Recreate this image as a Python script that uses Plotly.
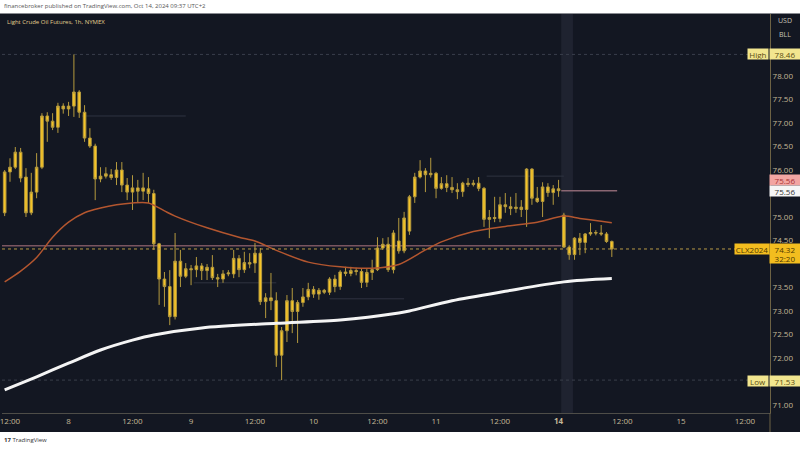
import plotly.graph_objects as go

# ---------------- data ----------------
opens = [75.09, 75.96, 76.06, 76.38, 75.85, 75.09, 75.53, 76.06, 77.15, 77.04,
         76.91, 77.36, 77.30, 77.36, 77.66, 77.23, 76.68, 76.51, 75.81, 75.87,
         75.90, 75.84, 76.00, 75.68, 75.53, 75.62, 75.55, 75.60, 75.50, 74.43,
         73.68, 73.52, 72.88, 74.06, 73.74, 73.90, 73.88, 73.96, 73.86, 73.93,
         73.71, 73.68, 73.79, 73.79, 74.12, 73.88, 74.03, 74.02, 74.23, 73.20,
         73.28, 73.22, 72.06, 72.58, 73.22, 72.99, 73.18, 73.30, 73.46, 73.36,
         73.44, 73.40, 73.68, 73.52, 73.83, 73.80, 73.86, 73.84, 73.61, 73.82,
         73.88, 74.34, 74.42, 73.88, 74.49, 74.28, 74.70, 75.43, 75.85, 75.98,
         75.90, 75.93, 75.61, 75.71, 75.63, 75.58, 75.54, 75.72, 75.69, 75.72,
         75.61, 74.95, 74.99, 74.97, 75.26, 75.22, 75.18, 75.21, 75.16, 76.02,
         75.40, 75.33, 75.64, 75.52, 75.60, 75.04, 74.36, 74.20, 74.55, 74.46,
         74.64, 74.67, 74.66, 74.64, 74.48]
highs = [76.00, 76.25, 76.49, 76.47, 76.04, 75.94, 76.36, 77.21, 77.23, 77.21,
         77.43, 77.42, 77.45, 78.46, 77.70, 77.38, 76.89, 76.56, 76.06, 76.06,
         76.02, 76.17, 76.17, 75.83, 75.89, 75.79, 75.94, 75.85, 75.58, 74.45,
         73.83, 73.87, 74.66, 74.30, 74.02, 73.98, 74.15, 74.02, 74.00, 74.19,
         73.79, 73.87, 73.87, 74.30, 74.19, 74.26, 74.23, 74.45, 74.34, 73.38,
         73.81, 73.40, 72.66, 73.34, 73.49, 73.23, 73.49, 73.60, 73.53, 73.49,
         73.47, 73.72, 73.77, 73.87, 73.94, 73.94, 73.92, 73.91, 73.91, 74.09,
         74.57, 74.55, 74.57, 74.72, 74.98, 75.11, 75.47, 75.94, 76.21, 76.04,
         76.26, 75.96, 75.85, 75.89, 75.85, 75.72, 75.75, 75.83, 75.79, 75.85,
         75.64, 75.15, 75.43, 75.43, 75.51, 75.43, 75.51, 75.36, 76.04, 76.04,
         75.64, 75.74, 75.72, 75.68, 75.79, 75.09, 74.40, 74.57, 74.66, 74.66,
         74.87, 74.72, 74.83, 74.68, 74.50]
lows = [75.02, 75.75, 76.02, 75.74, 75.00, 75.04, 75.40, 76.02, 76.60, 76.85,
        76.79, 77.20, 77.15, 77.13, 77.11, 76.60, 76.47, 75.36, 75.74, 75.82,
        75.79, 75.68, 75.53, 75.36, 75.15, 75.32, 75.36, 75.30, 74.30, 73.13,
        73.09, 72.70, 72.82, 73.51, 73.70, 73.55, 73.72, 73.66, 73.66, 73.66,
        73.51, 73.60, 73.74, 73.70, 73.72, 73.81, 73.91, 73.81, 73.13, 72.85,
        73.02, 71.81, 71.53, 72.34, 72.53, 72.32, 73.09, 73.23, 73.28, 73.24,
        73.36, 73.34, 73.40, 73.45, 73.74, 73.74, 73.76, 73.49, 73.51, 73.66,
        73.85, 74.30, 73.83, 73.80, 74.22, 74.23, 74.62, 75.30, 75.82, 75.53,
        75.84, 75.40, 75.58, 75.53, 75.51, 75.38, 75.43, 75.64, 75.65, 75.55,
        74.79, 74.55, 74.89, 74.89, 75.09, 75.04, 75.09, 75.00, 74.79, 75.26,
        75.30, 75.00, 75.43, 75.26, 75.43, 74.34, 74.09, 74.09, 74.19, 74.23,
        74.60, 74.61, 74.60, 74.45, 74.15]
closes = [75.96, 76.06, 76.38, 75.83, 75.09, 75.53, 76.06, 77.15, 77.04, 76.91,
          77.36, 77.30, 77.36, 77.66, 77.23, 76.68, 76.51, 75.81, 75.87, 75.92,
          75.84, 76.00, 75.68, 75.53, 75.62, 75.55, 75.62, 75.50, 74.43, 73.68,
          73.52, 72.88, 74.06, 73.74, 73.90, 73.88, 73.96, 73.86, 73.93, 73.71,
          73.68, 73.79, 73.81, 74.12, 73.88, 74.03, 74.00, 74.23, 73.20, 73.28,
          73.22, 72.06, 72.58, 73.22, 72.99, 73.18, 73.30, 73.46, 73.36, 73.44,
          73.40, 73.68, 73.52, 73.83, 73.80, 73.86, 73.84, 73.61, 73.82, 73.88,
          74.34, 74.42, 73.88, 74.66, 74.28, 74.98, 75.43, 75.85, 75.98, 75.90,
          75.93, 75.61, 75.71, 75.63, 75.58, 75.54, 75.72, 75.69, 75.72, 75.61,
          74.95, 74.99, 74.97, 75.26, 75.22, 75.18, 75.21, 75.16, 76.02, 75.40,
          75.33, 75.64, 75.52, 75.60, 75.56, 74.36, 74.20, 74.55, 74.46, 74.64,
          74.67, 74.66, 74.64, 74.48, 74.32]
bars = list(range(len(closes)))

# moving averages at these bars
ema_bars = [0, 3, 6, 9, 12, 15, 18, 21, 24, 27, 30, 32, 38, 44, 47, 51, 57, 63,
            69, 74, 79, 82, 88, 94, 100, 105, 108, 112, 114]
ema_vals = [73.62, 73.85, 74.14, 74.57, 74.89, 75.09, 75.19, 75.26, 75.30, 75.30,
            75.13, 75.02, 74.77, 74.57, 74.49, 74.29, 74.04, 73.94, 73.91, 73.99,
            74.30, 74.47, 74.69, 74.80, 74.89, 75.02, 74.97, 74.91, 74.88]
sma_bars = [0, 6, 12, 18, 24, 28, 37, 51, 63, 74, 76, 84, 94, 105, 114]
sma_vals = [71.32, 71.60, 71.89, 72.17, 72.38, 72.49, 72.64, 72.74, 72.81, 72.96,
            73.00, 73.22, 73.42, 73.62, 73.69]

# time axis labels and the bars they sit on
x_tick_bars = [1, 12, 24, 35, 47, 58, 70, 81, 93, 104, 116, 127, 139]
x_tick_labels = ["12:00", "8", "12:00", "9", "12:00", "10", "12:00", "11", "12:00",
                 "<b>14</b>", "12:00", "15", "12:00"]

# price axis labels that are visible (others are hidden behind tags)
y_tick_vals = [71.0, 72.0, 72.5, 73.0, 73.5, 74.5, 75.0, 76.0, 76.5, 77.0, 77.5, 78.0]

high_price = 78.46
low_price = 71.53
last_price = 74.32
prev_close = 75.56
old_close_level = 74.39
countdown = "32:20"
symbol = "CLX2024"

# ---------------- styling ----------------
BG = "#131722"
YELLOW = "#f6c427"
WICK = "#b59a3e"
AXIS_TXT = "#c4b898"

W, H = 800, 450
L_M, R_M, T_M, B_M = 0, 30, 14, 37
PW = W - L_M - R_M
PH = H - T_M - B_M


def px_x(px):
    return (px - L_M) / PW


def px_y(py):
    return (H - B_M - py) / PH


fig = go.Figure()

fig.add_trace(go.Candlestick(
    x=bars, open=opens, high=highs, low=lows, close=closes,
    increasing=dict(line=dict(color=WICK, width=1), fillcolor=YELLOW),
    decreasing=dict(line=dict(color=WICK, width=1), fillcolor=YELLOW),
    whiskerwidth=0, showlegend=False, hoverinfo="skip"))

fig.add_trace(go.Scatter(x=ema_bars, y=ema_vals, mode="lines",
                         line=dict(color="#b3562f", width=1.5, shape="spline", smoothing=0.8),
                         showlegend=False, hoverinfo="skip"))
fig.add_trace(go.Scatter(x=sma_bars, y=sma_vals, mode="lines",
                         line=dict(color="#f4f4f4", width=3, shape="spline", smoothing=0.8),
                         showlegend=False, hoverinfo="skip"))

shapes = []
# white header & footer bands
shapes.append(dict(type="rect", xref="paper", yref="paper", x0=-0.01, x1=px_x(W) + 0.01,
                   y0=px_y(13.5), y1=px_y(-2), fillcolor="white", line_width=0, layer="below"))
shapes.append(dict(type="rect", xref="paper", yref="paper", x0=-0.01, x1=px_x(W) + 0.01,
                   y0=px_y(H + 2), y1=px_y(432), fillcolor="white", line_width=0, layer="below"))
# session highlight band
shapes.append(dict(type="rect", xref="x", yref="paper", x0=104.5, x1=106.7, y0=0, y1=1,
                   fillcolor="#1f2330", line_width=0, layer="below"))
# high / low lines
for lvl in (high_price, low_price):
    shapes.append(dict(type="line", xref="paper", yref="y", x0=0, x1=1, y0=lvl, y1=lvl,
                       line=dict(color="#3a3e4b", width=1, dash="dot"), layer="below"))
# faint level lines
for (a, b, lvl) in [(14.5, 34, 77.15), (90.5, 105, 75.87), (35.5, 51, 73.60), (61, 75, 73.26)]:
    shapes.append(dict(type="line", xref="x", yref="y", x0=a, x1=b, y0=lvl, y1=lvl,
                       line=dict(color="#2f3341", width=1), layer="below"))
# previous close lines
shapes.append(dict(type="line", xref="x", yref="y", x0=-0.5, x1=104.5, y0=old_close_level,
                   y1=old_close_level, line=dict(color="#7a5560", width=1.5), layer="below"))
shapes.append(dict(type="line", xref="x", yref="y", x0=104.5, x1=115, y0=prev_close,
                   y1=prev_close, line=dict(color="#8a6672", width=1.5), layer="below"))
# current price dotted line
shapes.append(dict(type="line", xref="paper", yref="y", x0=0, x1=1, y0=last_price, y1=last_price,
                   line=dict(color="#b89a44", width=1, dash="dot")))
# right axis separator extension into time axis band
shapes.append(dict(type="line", xref="paper", yref="paper", x0=1, x1=1, y0=px_y(432), y1=0,
                   line=dict(color="#6d6244", width=1)))

annotations = []
annotations.append(dict(xref="paper", yref="paper", x=px_x(0), y=px_y(6.5), xanchor="left",
                        yanchor="middle", showarrow=False,
                        text="financebroker published on TradingView.com, Oct 14, 2024 09:37 UTC+2",
                        font=dict(size=6, color="#555555", family="Open Sans")))
annotations.append(dict(xref="paper", yref="paper", x=px_x(3), y=px_y(22), xanchor="left",
                        yanchor="middle", showarrow=False,
                        text="Light Crude Oil Futures, 1h, NYMEX",
                        font=dict(size=6, color="#e2cf8f", family="Open Sans")))
annotations.append(dict(xref="paper", yref="paper", x=px_x(0), y=px_y(440), xanchor="left",
                        yanchor="middle", showarrow=False,
                        text="<b>17</b> TradingView",
                        font=dict(size=6, color="#333333", family="Open Sans")))
for t, yy in (("USD", 20), ("BLL", 34)):
    annotations.append(dict(xref="paper", yref="paper", x=px_x(785), y=px_y(yy),
                            xanchor="center", yanchor="middle", showarrow=False, text=t,
                            font=dict(size=7, color="#c8c4b8", family="Open Sans")))


def tag(text, cx, cy, w, bg, fg, h=10):
    annotations.append(dict(xref="paper", yref="paper", x=px_x(cx), y=px_y(cy),
                            xanchor="center", yanchor="middle", showarrow=False, text=text,
                            width=w, height=h, bgcolor=bg, borderpad=0, align="center",
                            font=dict(size=8, color=fg, family="Open Sans")))


PALE = "#f2e68f"
GOLD = "#f3bd1f"
tag("High", 758, 54, 20, PALE, "#5a4c12")
tag("%.2f" % high_price, 785, 54, 30, PALE, "#5a4c12")
tag("%.2f" % prev_close, 785, 180, 30, "#f2a5a2", "#a83232")
tag("%.2f" % prev_close, 785, 191, 30, "#f6f6f6", "#333333")
tag(symbol, 752, 249, 34, GOLD, "#4d3800")
tag("%.2f" % last_price, 785, 249, 30, GOLD, "#4d3800")
tag(countdown, 785, 258.5, 30, GOLD, "#4d3800", h=9)
tag("Low", 758, 381, 20, PALE, "#5a4c12")
tag("%.2f" % low_price, 785, 381, 30, PALE, "#5a4c12")

fig.update_layout(
    width=W, height=H,
    margin=dict(l=L_M, r=R_M, t=T_M, b=B_M, pad=0),
    paper_bgcolor=BG, plot_bgcolor=BG,
    shapes=shapes, annotations=annotations,
    showlegend=False,
    xaxis=dict(range=[-0.5, 143.7], rangeslider=dict(visible=False),
               tickmode="array", tickvals=x_tick_bars, ticktext=x_tick_labels,
               showgrid=False, zeroline=False, showline=True, linecolor="#4e4d48",
               linewidth=1, ticks="", ticklabeloverflow="allow",
               tickfont=dict(size=8, color=AXIS_TXT, family="Open Sans"),
               fixedrange=True),
    yaxis=dict(range=[70.83, 79.32], side="right", tickmode="array",
               tickvals=y_tick_vals, ticktext=["%.2f" % v for v in y_tick_vals],
               showgrid=False, zeroline=False, showline=True,
               linecolor="#6d6244", linewidth=1, ticks="", ticklabeloverflow="allow",
               tickfont=dict(size=8, color=AXIS_TXT, family="Open Sans"), fixedrange=True),
)

fig.write_html("out.html", config={"displayModeBar": False},
               post_script="document.body.style.margin='0';document.body.style.overflow='hidden';")
